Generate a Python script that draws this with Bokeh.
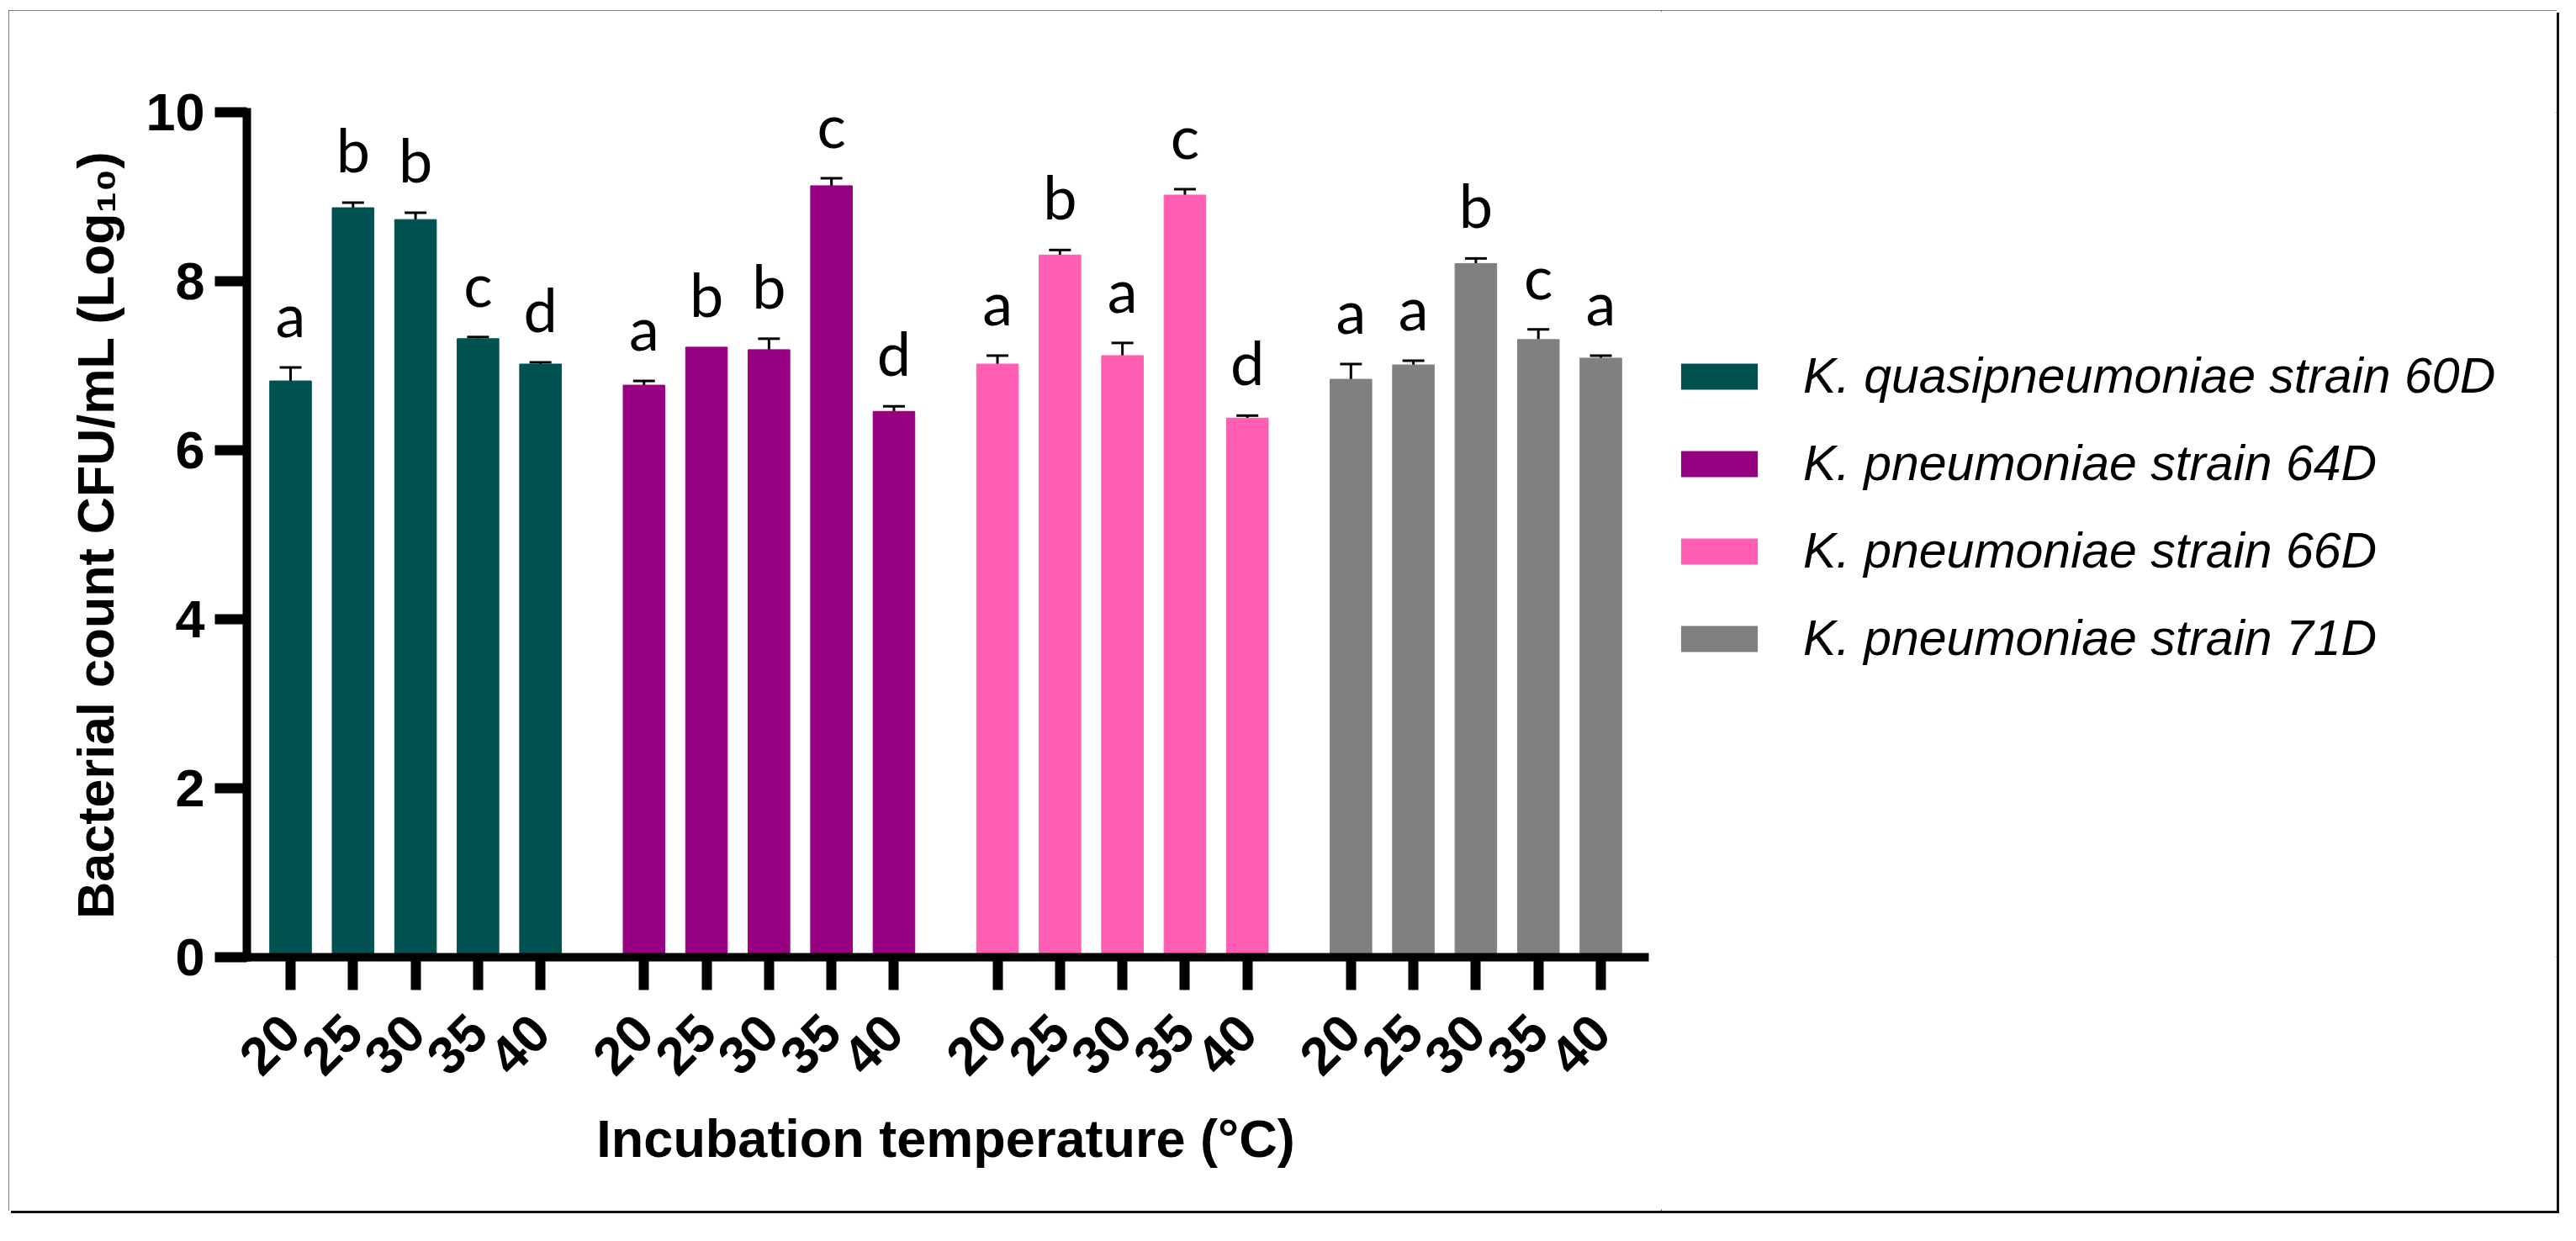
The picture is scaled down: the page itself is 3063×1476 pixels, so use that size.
from math import pi

from bokeh.core.properties import value
from bokeh.embed import file_html
from bokeh.layouts import row
from bokeh.models import (ColumnDataSource, FactorRange, FixedTicker, LabelSet,
                          Legend, LegendItem, Range1d, TeeHead, Whisker)
from bokeh.plotting import figure
from bokeh.resources import INLINE

# ---------------- data ----------------
strain_ids = ["60D", "64D", "66D", "71D"]
strain_names = [
    "K. quasipneumoniae strain 60D",
    "K. pneumoniae strain 64D",
    "K. pneumoniae strain 66D",
    "K. pneumoniae strain 71D",
]
temperatures = ["20", "25", "30", "35", "40"]
colors = ["#005251", "#970080", "#FF5EB3", "#808080"]

mean_60D = [6.82, 8.87, 8.73, 7.32, 7.02]
mean_64D = [6.77, 7.22, 7.19, 9.13, 6.46]
mean_66D = [7.02, 8.31, 7.12, 9.02, 6.38]
mean_71D = [6.84, 7.01, 8.21, 7.31, 7.09]

err_60D = [0.16, 0.06, 0.08, 0.02, 0.02]
err_64D = [0.05, 0.00, 0.13, 0.09, 0.06]
err_66D = [0.10, 0.06, 0.15, 0.07, 0.03]
err_71D = [0.18, 0.05, 0.06, 0.12, 0.03]

letters_60D = ["a", "b", "b", "c", "d"]
letters_64D = ["a", "b", "b", "c", "d"]
letters_66D = ["a", "b", "a", "c", "d"]
letters_71D = ["a", "a", "b", "c", "a"]

y_ticks = [0, 2, 4, 6, 8, 10]

means = [mean_60D, mean_64D, mean_66D, mean_71D]
errs = [err_60D, err_64D, err_66D, err_71D]
letters = [letters_60D, letters_64D, letters_66D, letters_71D]

# ---------------- main chart ----------------
factors = [(s, t) for s in strain_ids for t in temperatures]
x_range = FactorRange(factors=factors, group_padding=0.657,
                      range_padding=0.2, range_padding_units="absolute")

W, H = 3030, 1428
W1 = 1965
p = figure(x_range=x_range, y_range=Range1d(0, 10), width=W1, height=H,
           output_backend="svg", toolbar_location=None,
           min_border_left=283, min_border_right=20,
           min_border_top=121, min_border_bottom=H - 1126,
           background_fill_color="white", border_fill_color="white")
p.outline_line_color = None
p.xgrid.grid_line_color = None
p.ygrid.grid_line_color = None

whisk_x, whisk_lo, whisk_hi = [], [], []
lab_x, lab_y, lab_t = [], [], []
for i, sid in enumerate(strain_ids):
    xs = [(sid, t) for t in temperatures]
    src = ColumnDataSource(dict(x=xs, top=means[i]))
    p.vbar(x="x", top="top", width=0.667, bottom=0, source=src,
           fill_color=colors[i], line_color=colors[i], line_width=1)
    for j, t in enumerate(temperatures):
        if errs[i][j] > 0:
            whisk_x.append((sid, t))
            whisk_lo.append(means[i][j])
            whisk_hi.append(means[i][j] + errs[i][j])
        lab_x.append((sid, t))
        lab_y.append(means[i][j] + errs[i][j])
        lab_t.append(letters[i][j])

wsrc = ColumnDataSource(dict(x=whisk_x, lower=whisk_lo, upper=whisk_hi))
p.add_layout(Whisker(base="x", lower="lower", upper="upper", source=wsrc,
                     dimension="height", line_width=3, line_color="black",
                     upper_head=TeeHead(size=26, line_width=3, line_color="black"),
                     lower_head=None))

lsrc = ColumnDataSource(dict(x=lab_x, y=lab_y, t=lab_t))
p.add_layout(LabelSet(x="x", y="y", text="t", source=lsrc, y_offset=36,
                      text_align="center", text_baseline="alphabetic",
                      text_font=value("Lato"), text_font_size="72px",
                      text_color="black"))

TF = "Liberation Sans"
for ax in (p.xaxis[0], p.yaxis[0]):
    ax.axis_line_width = 10
    ax.axis_line_color = "black"
    ax.axis_line_cap = "square"
    ax.major_tick_line_width = 12
    ax.major_tick_line_color = "black"
    ax.major_tick_in = 0
    ax.minor_tick_line_color = None
    ax.major_label_text_font = TF
    ax.major_label_text_font_style = "bold"
    ax.major_label_text_font_size = "63px"
    ax.major_label_text_color = "black"
    ax.axis_label_text_font = TF
    ax.axis_label_text_font_style = "bold"
    ax.axis_label_text_color = "black"

xa = p.xaxis[0]
xa.axis_label = "Incubation temperature (°C)"
xa.axis_label_text_font_size = "63px"
xa.major_tick_out = 39
xa.major_label_orientation = pi / 4
xa.major_label_standoff = 40
xa.axis_label_standoff = 19
xa.group_text_font_size = "1px"
xa.group_text_alpha = 0
xa.separator_line_alpha = 0

ya = p.yaxis[0]
ya.axis_label = "Bacterial count CFU/mL (Log₁₀)"
ya.axis_label_text_font_size = "61px"
ya.ticker = FixedTicker(ticks=y_ticks)
ya.major_tick_out = 38
ya.major_label_standoff = 12
ya.axis_label_standoff = 22

# ---------------- legend panel ----------------
pl = figure(width=W - W1, height=H, x_range=Range1d(0, 1), y_range=Range1d(0, 1),
            output_backend="svg", toolbar_location=None,
            x_axis_location=None, y_axis_location=None, min_border=0,
            background_fill_color="white", border_fill_color="white")
pl.outline_line_color = None
pl.xgrid.grid_line_color = None
pl.ygrid.grid_line_color = None

legend_items = []
for i, name in enumerate(strain_names):
    # zero-height bar: only its legend swatch is visible
    lsrc_i = ColumnDataSource(dict(x=[0.5], top=[0.0]))
    r = pl.vbar(x="x", top="top", bottom=0, width=0.0, source=lsrc_i,
                fill_color=colors[i], line_alpha=0)
    legend_items.append(LegendItem(label=name, renderers=[r]))

legend = Legend(items=legend_items, location=(12, 345), orientation="vertical",
                glyph_width=114, glyph_height=39, label_standoff=43,
                label_height=64, spacing=36, padding=0, margin=0,
                border_line_color=None, background_fill_alpha=0,
                label_text_font=TF, label_text_font_style="italic",
                label_text_font_size="59px", label_text_color="black")
pl.add_layout(legend, "center")

layout = row(p, pl, spacing=0)
layout.styles = {"position": "relative", "left": "10px", "top": "12px",
                 "outline": "2px solid #555555", "outline-offset": "-2px",
                 "box-shadow": "3px 3px 0 0 #111111"}

open("out.html", "w").write(file_html(layout, INLINE))
